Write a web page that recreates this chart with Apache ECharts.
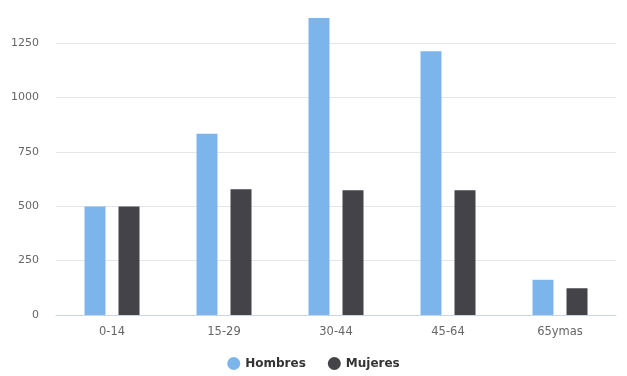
<!DOCTYPE html>
<html>
<head>
<meta charset="utf-8">
<script src="https://cdn.jsdelivr.net/npm/echarts@6/dist/echarts.min.js"></script>
<style>html,body{margin:0;padding:0;background:#fff}#c{width:627px;height:376px}</style>
</head>
<body>
<div id="c"></div>
<script>
var categories = ['0-14', '15-29', '30-44', '45-64', '65ymas'];
var hombres = [499, 834, 1366, 1213, 162];
var mujeres = [499, 578, 574, 574, 123];
var seriesNames = ['Hombres', 'Mujeres'];
var yMax = 1375;
var yInterval = 250;

var chart = echarts.init(document.getElementById('c'), null, {renderer: 'canvas'});
var font = '"DejaVu Sans", sans-serif';
chart.setOption({
  animation: false,
  color: ['#7cb5ec', '#434348'],
  grid: {left: 56, right: 11, top: 16, bottom: 61},
  legend: {
    bottom: 1,
    left: 'center',
    icon: 'circle',
    itemWidth: 13,
    itemHeight: 13,
    itemGap: 22,
    textStyle: {fontFamily: font, fontSize: 12, fontWeight: 'bold', color: '#333333'},
    data: seriesNames
  },
  xAxis: {
    type: 'category',
    data: categories,
    axisLine: {lineStyle: {color: '#ccd6eb'}},
    axisTick: {show: false},
    axisLabel: {fontFamily: font, fontSize: 11.5, color: '#666666', margin: 11}
  },
  yAxis: {
    type: 'value',
    min: 0,
    max: yMax,
    interval: yInterval,
    axisLine: {show: false},
    axisTick: {show: false},
    axisLabel: {
      fontFamily: font, fontSize: 11, color: '#666666', margin: 17,
      formatter: function (v) { return v % yInterval === 0 ? String(v) : ''; }
    },
    splitLine: {lineStyle: {color: ['#e6e6e6','#e6e6e6','#e6e6e6','#e6e6e6','#e6e6e6','#e6e6e6','rgba(0,0,0,0)']}}
  },
  series: [
    {name: seriesNames[0], type: 'bar', data: hombres, barWidth: 21, barGap: '62%'},
    {name: seriesNames[1], type: 'bar', data: mujeres, barWidth: 21, barGap: '62%'}
  ]
});
</script>
</body>
</html>
